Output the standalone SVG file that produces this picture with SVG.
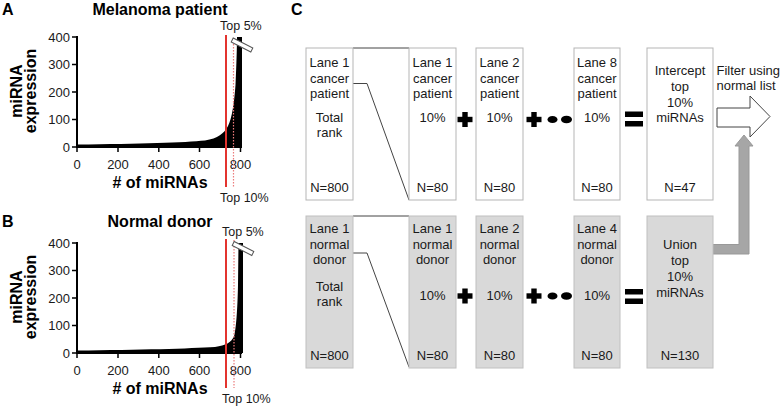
<svg xmlns="http://www.w3.org/2000/svg" width="780" height="406" viewBox="0 0 780 406">
<style>
text{font-family:"Liberation Sans",Arial,sans-serif;fill:#1a1a1a}
.lbl{font-size:16px;font-weight:bold;fill:#000}
.tick{font-size:13px;text-anchor:middle}
.ytick{font-size:13px;text-anchor:end}
.note{font-size:12.5px}
.bx{font-size:13px;text-anchor:middle}
.bxl{font-size:13px;text-anchor:start}
.axis{stroke:#000;stroke-width:2;fill:none}
.red{stroke:#e3342f;stroke-width:2}
.dot{stroke:#ec7b7b;stroke-width:1.2;stroke-dasharray:1.5 1.5}
.brk{fill:#fff;stroke:#555;stroke-width:1}
.wbox{fill:#fff;stroke:#b5b5b5;stroke-width:1}
.gbox{fill:#d9d9d9;stroke:#c0c0c0;stroke-width:1}
.conn{fill:none;stroke:#444;stroke-width:1}
</style>
<defs>
<g id="plus"><rect x="-7.5" y="-2.7" width="15" height="5.4"/><rect x="-2.7" y="-7.5" width="5.4" height="15"/></g>
<g id="plusdots"><use href="#plus"/><ellipse cx="18.5" cy="0" rx="5" ry="3.6"/><ellipse cx="32.5" cy="0" rx="5.5" ry="3.8"/></g>
<g id="equals"><rect x="0" y="0" width="18" height="5.5"/><rect x="0" y="9.5" width="18" height="5.5"/></g>
<g id="ticks">
<path class="axis" d="M77,36 V147 H242"/>
<path stroke="#000" stroke-width="1.5" d="M72,37H77M72,64.5H77M72,92H77M72,119.5H77M72,147H77M77,147V152M118,147V152M158.8,147V152M199.5,147V152M240.5,147V152"/>
<text class="ytick" x="70" y="41.5">400</text>
<text class="ytick" x="70" y="69">300</text>
<text class="ytick" x="70" y="96.5">200</text>
<text class="ytick" x="70" y="124">100</text>
<text class="ytick" x="70" y="151.5">0</text>
<text class="tick" x="77" y="169">0</text>
<text class="tick" x="118" y="169">200</text>
<text class="tick" x="158.8" y="169">400</text>
<text class="tick" x="199.5" y="169">600</text>
<text class="tick" x="240.5" y="169">800</text>
<text class="lbl" x="160" y="188" text-anchor="middle"># of miRNAs</text>
<text class="lbl" transform="translate(22,91) rotate(-90)" text-anchor="middle">miRNA</text>
<text class="lbl" transform="translate(36,91) rotate(-90)" text-anchor="middle">expression</text>
</g>
</defs>

<g id="panelA">
<text class="lbl" x="2" y="15">A</text>
<text class="lbl" x="160" y="15" text-anchor="middle">Melanoma patient</text>
<use href="#ticks"/>
<path fill="#000" d="M77,147 L77,144.5 C140,144 185,142.5 205,140.5 C218,138.5 224,133.5 228,126 C232,118 234,104 235.5,85 C236.5,65 237,45 237,37 L242,37 L242,147 Z"/>
<line class="red" x1="226" y1="35" x2="226" y2="187"/>
<line class="dot" x1="233.5" y1="38" x2="233.5" y2="187"/>
<rect class="brk" x="-11" y="-2.2" width="22" height="4.4" transform="translate(242,45) rotate(27)"/>
<text class="note" x="220" y="29.5">Top 5%</text>
<text class="note" x="220" y="202">Top 10%</text>
</g>

<g id="panelB">
<text class="lbl" x="2" y="227">B</text>
<text class="lbl" x="160" y="227" text-anchor="middle">Normal donor</text>
<use href="#ticks" transform="translate(0,206)"/>
<path fill="#000" d="M77,353 L77,350.5 C140,350 190,348.5 215,347 C226,345.5 231,342.5 234,336.5 C236,330 237.5,310 238,285 L238.5,243 L243,243 L243,353 Z"/>
<line class="red" x1="226" y1="239" x2="226" y2="388"/>
<line class="dot" x1="234" y1="240" x2="234" y2="388"/>
<rect class="brk" x="-11" y="-2.2" width="22" height="4.4" transform="translate(243,248.5) rotate(27)"/>
<text class="note" x="222" y="235.5">Top 5%</text>
<text class="note" x="222" y="403">Top 10%</text>
</g>

<g id="panelC-label"><text class="lbl" x="291" y="15">C</text></g>

<g id="connectors">
<path class="conn" d="M353,48 H409"/>
<path class="conn" d="M353,83.5 H367 L409,200"/>
<path class="conn" d="M353,216 H409"/>
<path class="conn" d="M353,253 H367 L409,367"/>
<polygon fill="#fff" stroke="#444" stroke-width="1" points="717,108 750,108 750,96 770,116.5 750,137 750,127 717,127"/>
<polygon fill="#a6a6a6" stroke="#999" stroke-width="1" points="713,244.5 739,244.5 739,146 735,146 744,135 753,146 749,146 749,254 713,254"/>
</g>

<g id="c-top1"><rect class="wbox" x="306" y="48" width="47" height="152"/>
<text class="bx" x="329.5" y="67">Lane 1</text><text class="bx" x="329.5" y="82.5">cancer</text><text class="bx" x="329.5" y="98">patient</text>
<text class="bx" x="329.5" y="122">Total</text><text class="bx" x="329.5" y="137">rank</text><text class="bx" x="329.5" y="192">N=800</text></g>
<g id="c-top2"><rect class="wbox" x="409" y="48" width="47" height="152"/>
<text class="bx" x="432.5" y="67">Lane 1</text><text class="bx" x="432.5" y="82.5">cancer</text><text class="bx" x="432.5" y="98">patient</text>
<text class="bx" x="432.5" y="122">10%</text><text class="bx" x="432.5" y="192">N=80</text></g>
<g id="c-top3"><rect class="wbox" x="476" y="48" width="47" height="152"/>
<text class="bx" x="499.5" y="67">Lane 2</text><text class="bx" x="499.5" y="82.5">cancer</text><text class="bx" x="499.5" y="98">patient</text>
<text class="bx" x="499.5" y="122">10%</text><text class="bx" x="499.5" y="192">N=80</text></g>
<g id="c-top4"><rect class="wbox" x="574" y="48" width="46" height="152"/>
<text class="bx" x="597" y="67">Lane 8</text><text class="bx" x="597" y="82.5">cancer</text><text class="bx" x="597" y="98">patient</text>
<text class="bx" x="597" y="122">10%</text><text class="bx" x="597" y="192">N=80</text></g>
<g id="c-top5"><rect class="wbox" x="647" y="48" width="66" height="152"/>
<text class="bx" x="680" y="75">Intercept</text><text class="bx" x="680" y="90.5">top</text><text class="bx" x="680" y="106.5">10%</text><text class="bx" x="680" y="122">miRNAs</text><text class="bx" x="680" y="192">N=47</text></g>
<g id="c-top-ops">
<use href="#plus" x="465" y="119.5"/>
<use href="#plusdots" x="534" y="119.5"/>
<use href="#equals" x="625" y="111.5"/>
</g>
<g id="c-filter-label"><text class="bxl" x="716.5" y="74.5">Filter using</text><text class="bxl" x="716.5" y="90">normal list</text></g>

<g id="c-bot1"><rect class="gbox" x="306" y="216" width="47" height="152"/>
<text class="bx" x="329.5" y="233">Lane 1</text><text class="bx" x="329.5" y="248.5">normal</text><text class="bx" x="329.5" y="264">donor</text>
<text class="bx" x="329.5" y="291">Total</text><text class="bx" x="329.5" y="306">rank</text><text class="bx" x="329.5" y="360">N=800</text></g>
<g id="c-bot2"><rect class="gbox" x="409" y="216" width="47" height="152"/>
<text class="bx" x="432.5" y="233">Lane 1</text><text class="bx" x="432.5" y="248.5">normal</text><text class="bx" x="432.5" y="264">donor</text>
<text class="bx" x="432.5" y="300">10%</text><text class="bx" x="432.5" y="360">N=80</text></g>
<g id="c-bot3"><rect class="gbox" x="476" y="216" width="47" height="152"/>
<text class="bx" x="499.5" y="233">Lane 2</text><text class="bx" x="499.5" y="248.5">normal</text><text class="bx" x="499.5" y="264">donor</text>
<text class="bx" x="499.5" y="300">10%</text><text class="bx" x="499.5" y="360">N=80</text></g>
<g id="c-bot4"><rect class="gbox" x="574" y="216" width="46" height="152"/>
<text class="bx" x="597" y="233">Lane 4</text><text class="bx" x="597" y="248.5">normal</text><text class="bx" x="597" y="264">donor</text>
<text class="bx" x="597" y="300">10%</text><text class="bx" x="597" y="360">N=80</text></g>
<g id="c-bot5"><rect class="gbox" x="647" y="216" width="66" height="152"/>
<text class="bx" x="680" y="249">Union</text><text class="bx" x="680" y="265">top</text><text class="bx" x="680" y="281">10%</text><text class="bx" x="680" y="297">miRNAs</text><text class="bx" x="680" y="360">N=130</text></g>
<g id="c-bot-ops">
<use href="#plus" x="465" y="296"/>
<use href="#plusdots" x="534" y="296"/>
<use href="#equals" x="625" y="289"/>
</g>
</svg>
